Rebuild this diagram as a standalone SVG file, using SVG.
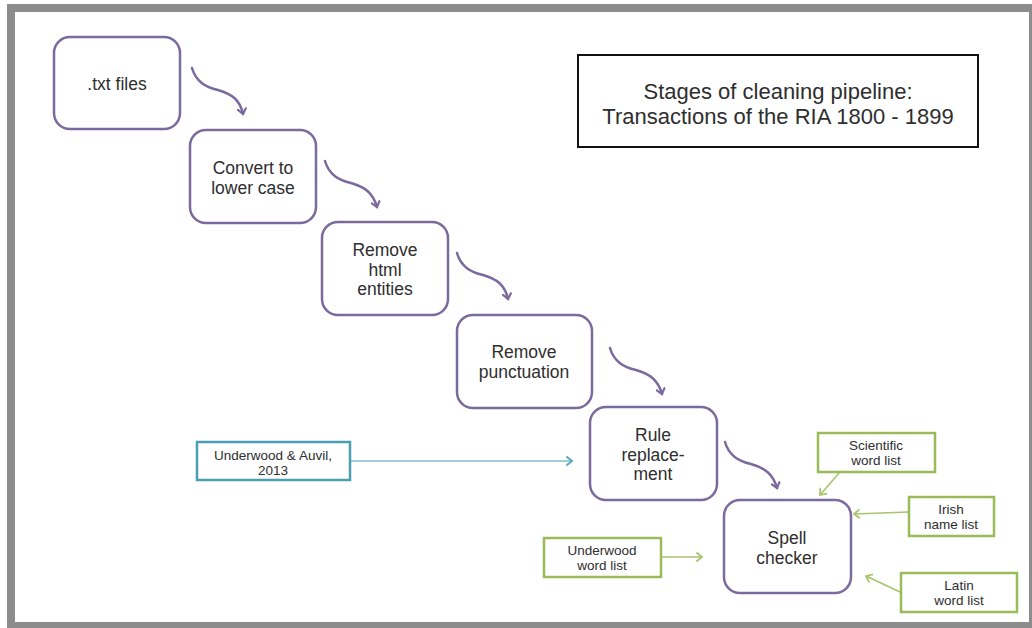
<svg xmlns="http://www.w3.org/2000/svg" width="1032" height="628" viewBox="0 0 1032 628">
<style>
.node rect{fill:#fff;stroke:#7a6a9e;stroke-width:2.5}
.t{font-family:"Liberation Sans",Arial,sans-serif;fill:#2e2e2e;text-anchor:middle}
.n{font-size:17.5px}
.s{font-size:13.5px}
.g rect{fill:#fff;stroke:#9bbb59;stroke-width:2.5}
.c{fill:none;stroke:#7a6a9e;stroke-width:2.5;stroke-linecap:round}
.ga{fill:none;stroke:#a8c46c;stroke-width:1.6}
.ba{fill:none;stroke:#7fc0d0;stroke-width:1.6}
</style>
<defs>
<marker id="ap" viewBox="0 0 10 10" refX="6" refY="5" markerWidth="4" markerHeight="4" orient="auto" markerUnits="strokeWidth">
<path d="M1,1 L6,5 L1,9" fill="none" stroke="#7a6a9e" stroke-width="2.2" stroke-linecap="round"/>
</marker>
<marker id="ag" viewBox="0 0 10 10" refX="6" refY="5" markerWidth="7" markerHeight="7" orient="auto" markerUnits="strokeWidth">
<path d="M1,1 L6,5 L1,9" fill="none" stroke="#a8c46c" stroke-width="1.6"/>
</marker>
<marker id="ab" viewBox="0 0 10 10" refX="6" refY="5" markerWidth="7" markerHeight="7" orient="auto" markerUnits="strokeWidth">
<path d="M1,1 L6,5 L1,9" fill="none" stroke="#5fa8bd" stroke-width="1.8"/>
</marker>
</defs>
<rect x="7" y="4" width="1025" height="624" fill="#8c8c8c"/>
<rect x="15" y="12" width="1014" height="610" fill="#fff"/>

<g id="title">
<rect x="578" y="55" width="400" height="92" fill="#fff" stroke="#111" stroke-width="2"/>
<text class="t" font-size="22"><tspan x="778" y="98.5">Stages of cleaning pipeline:</tspan><tspan x="778" y="123.5">Transactions of the RIA 1800 - 1899</tspan></text>
</g>

<g id="connectors">
<path class="c" marker-end="url(#ap)" d="M192,68 C196,82 206,87 218,90 C232,94 240,100 243,114"/>
<path class="c" marker-end="url(#ap)" d="M325,161 C329,175 339,180 351,183 C365,187 373,193 377,207"/>
<path class="c" marker-end="url(#ap)" d="M457,253 C461,267 471,272 483,275 C497,279 505,285 508,299"/>
<path class="c" marker-end="url(#ap)" d="M610,348 C614,362 624,367 636,370 C650,374 658,380 662,394"/>
<path class="c" marker-end="url(#ap)" d="M725,442 C729,456 739,461 751,464 C765,468 773,474 777,488"/>
<line class="ba" marker-end="url(#ab)" x1="350" y1="461" x2="572" y2="461"/>
<line class="ga" marker-end="url(#ag)" x1="840" y1="472" x2="820" y2="495"/>
<line class="ga" marker-end="url(#ag)" x1="909" y1="512" x2="854" y2="514"/>
<line class="ga" marker-end="url(#ag)" x1="661" y1="557" x2="702" y2="557"/>
<line class="ga" marker-end="url(#ag)" x1="900" y1="592" x2="866" y2="576"/>
</g>

<g id="txt" class="node"><rect x="54" y="37" width="126" height="92" rx="16"/>
<text class="t n" x="117" y="90">.txt files</text></g>
<g id="convert" class="node"><rect x="190" y="130" width="126" height="93" rx="16"/>
<text class="t n"><tspan x="253" y="174">Convert to</tspan><tspan x="253" y="193.5">lower case</tspan></text></g>
<g id="html" class="node"><rect x="322" y="222" width="126" height="93" rx="16"/>
<text class="t n"><tspan x="385" y="256">Remove</tspan><tspan x="385" y="275.5">html</tspan><tspan x="385" y="295">entities</tspan></text></g>
<g id="punct" class="node"><rect x="457" y="315" width="135" height="93" rx="16"/>
<text class="t n"><tspan x="524" y="358">Remove</tspan><tspan x="524" y="377.5">punctuation</tspan></text></g>
<g id="rule" class="node"><rect x="590" y="407" width="127" height="93" rx="16"/>
<text class="t n"><tspan x="653" y="441">Rule</tspan><tspan x="653" y="460.5">replace-</tspan><tspan x="653" y="480">ment</tspan></text></g>
<g id="spell" class="node"><rect x="724" y="500" width="127" height="93" rx="16"/>
<text class="t n"><tspan x="787" y="544">Spell</tspan><tspan x="787" y="563.5">checker</tspan></text></g>

<g id="underwood-auvil"><rect x="197" y="442" width="153" height="38" fill="#fff" stroke="#4a9fb3" stroke-width="2.5"/>
<text class="t s"><tspan x="273" y="460">Underwood &amp; Auvil,</tspan><tspan x="273" y="475">2013</tspan></text></g>
<g id="scientific" class="g"><rect x="818" y="433" width="117" height="39"/>
<text class="t s"><tspan x="876" y="450">Scientific</tspan><tspan x="876" y="465">word list</tspan></text></g>
<g id="irish" class="g"><rect x="909" y="497" width="85" height="39"/>
<text class="t s"><tspan x="951" y="514">Irish</tspan><tspan x="951" y="529">name list</tspan></text></g>
<g id="underwood-list" class="g"><rect x="544" y="538" width="117" height="39"/>
<text class="t s"><tspan x="602" y="555">Underwood</tspan><tspan x="602" y="570">word list</tspan></text></g>
<g id="latin" class="g"><rect x="901" y="573" width="116" height="39"/>
<text class="t s"><tspan x="959" y="590">Latin</tspan><tspan x="959" y="605">word list</tspan></text></g>
</svg>
